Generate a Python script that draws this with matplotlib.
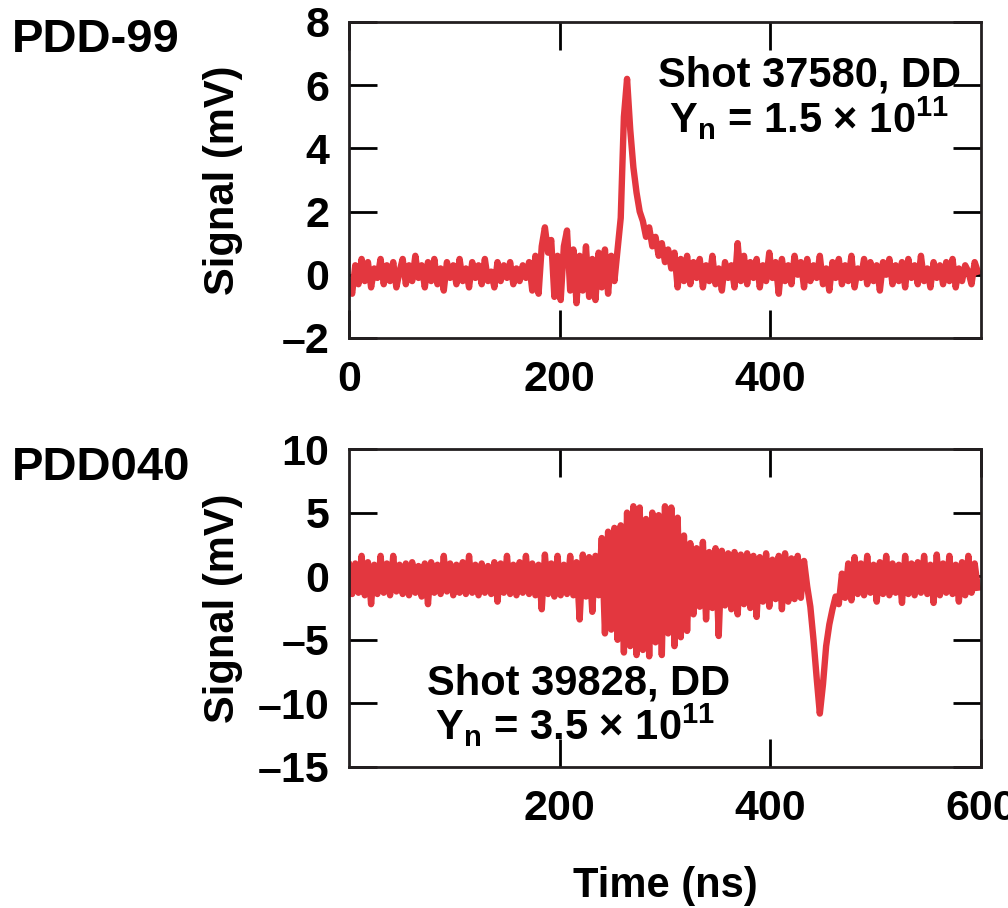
import numpy as np
import matplotlib
matplotlib.use("Agg")
import matplotlib.pyplot as plt

plt.rcParams["font.family"] = ["Liberation Sans", "DejaVu Sans"]
plt.rcParams["font.weight"] = "bold"
plt.rcParams["mathtext.fontset"] = "custom"
plt.rcParams["mathtext.rm"] = "Liberation Sans:bold"
plt.rcParams["mathtext.bf"] = "Liberation Sans:bold"
plt.rcParams["mathtext.it"] = "Liberation Sans:bold"

DT = 3.0  # ns between samples

# PDD-99, shot 37580 (mV)
pdd99_signal = [
    -0.2, -0.6, 0.3, -0.3, 0.5, -0.2, 0.4, -0.4, 0.2, -0.1,
    0.5, -0.3, 0.3, -0.2, 0.4, -0.4, 0.1, 0.5, -0.3, 0.3,
    -0.2, 0.6, -0.1, 0.3, -0.4, 0.4, -0.2, 0.5, -0.3, 0.2,
    -0.5, 0.4, -0.1, 0.3, -0.3, 0.5, -0.2, 0.2, -0.4, 0.4,
    -0.1, 0.3, -0.3, 0.5, -0.2, 0.1, -0.4, 0.4, -0.2, 0.3,
    -0.1, 0.4, -0.3, 0.2, -0.2, 0.3, -0.1,
    0.4, -0.5, 0.6, -0.6, 0.9, 1.5, 0.7, 1.1, -0.7, 0.6,
    -0.8, 0.9, 1.4, -0.5, 0.8, -0.9, 0.6, -0.5, 0.9, -0.7,
    0.5, -0.8, 0.7, -0.4, 0.8, -0.6, 0.6, -0.2, 0.8,
    1.8, 5.0, 6.2, 4.6, 3.4, 2.6, 2.0, 1.7, 1.2, 1.5,
    0.9, 1.2, 0.6, 1.0, 0.4, 0.8, 0.2, 0.7, -0.4, 0.5,
    -0.2, 0.6,
    -0.3, 0.4, -0.1, 0.5, -0.4, 0.3, -0.2, 0.6, -0.3, 0.2,
    -0.5, 0.4, -0.1, 0.3, -0.4, 1.0, -0.2, 0.6, -0.3, 0.4,
    -0.1, 0.5, -0.4, 0.3, -0.2, 0.7, -0.1, 0.4, -0.6, 0.5,
    -0.2, 0.3, -0.3, 0.6, 0.0, 0.4, -0.4, 0.5, -0.2, 0.3,
    -0.1, 0.6, -0.3, 0.2, -0.5, 0.4, -0.1, 0.5, -0.3, 0.3,
    -0.2, 0.6, -0.4, 0.2, -0.1, 0.5, -0.3, 0.4, -0.2, 0.3,
    -0.5, 0.4, 0.0, 0.5, -0.3, 0.3, -0.2, 0.4, -0.4, 0.5,
    -0.1, 0.3, -0.3, 0.6, -0.2, 0.2, -0.4, 0.4, -0.1, 0.3,
    -0.3, 0.4, -0.2, 0.5, -0.4, 0.2, -0.2, 0.3, 0.1, -0.3,
    0.4, 0.1,
]

# PDD040, shot 39828 (mV)
pdd040_signal = [
    0.9, -1.4, 1.0, -1.3, 1.6, -1.5, 1.1, -2.2, 0.9, -1.4,
    1.6, -1.3, 1.0, -1.5, 1.6, -1.2, 0.9, -1.4, 1.0, -1.5,
    1.1, -1.3, 0.8, -1.6, 1.0, -2.2, 1.1, -1.3, 0.9, -1.4,
    1.6, -1.2, 1.0, -1.5, 0.9, -1.3, 1.1, -1.4, 1.6, -1.3,
    0.9, -1.5, 1.0, -1.3, 0.8, -1.4, 1.1, -2.0, 1.0, -1.3,
    1.6, -1.4, 0.9, -1.5, 1.1, -1.3, 1.6, -1.4, 1.0, -1.5,
    0.9, -2.6, 1.7, -1.4, 1.0, -1.6, 1.6, -1.5, 0.9, -1.4,
    1.6, -1.5, 1.1, -3.4, 1.7, -1.6, 1.5, -2.8, 1.6, -1.5,
    3.0, -4.5, 3.5, -4.2, 3.8, -5.0, 4.0, -6.0, 5.0, -5.5,
    5.5, -6.2, 5.4, -5.8, 4.5, -6.3, 5.0, -5.2, 4.8, -6.2,
    5.5, -4.5, 5.4, -5.5, 4.6, -4.8, 3.2, -4.3,
    2.6, -3.0, 2.2, -2.4, 2.7, -3.4, 1.9, -2.5, 2.2, -4.7,
    2.0, -2.3, 1.8, -2.6, 1.9, -3.0, 1.7, -2.2, 1.8, -2.5,
    1.6, -3.2, 1.5, -2.0, 1.8, -2.4, 1.3, -1.8, 1.6, -2.6,
    1.8, -2.0, 1.4, -1.8, 1.6, -1.7, 1.2,
    -0.8, -2.4, -5.0, -8.0, -10.8, -8.5, -5.5, -3.8, -2.6, -1.6,
    -2.2, 0.2, -1.7, 1.0, -1.9, 1.5,
    -1.4, 1.0, -1.5, 1.6, -1.3, 0.9, -2.0, 1.1, -1.4, 1.6,
    -1.5, 1.0, -1.3, 0.9, -2.1, 1.6, -1.4, 1.0, -1.5, 1.1,
    -1.3, 1.6, -1.4, 0.9, -2.1, 1.7, -1.5, 1.0, -1.3, 1.6,
    -1.4, 0.9, -2.0, 1.1, -1.5, 1.6, -1.3, 1.0, -0.9,
]

top_yticks = [-2, 0, 2, 4, 6, 8]
bottom_yticks = [-15, -10, -5, 0, 5, 10]
top_xticks = [0, 200, 400]
bottom_xticks = [200, 400, 600]

RED = "#e3373f"
TICK_FS = 31
LABEL_FS = 30


def style_axes(ax, xticks, yticks, ylim):
    ax.set_xlim(0, 600)
    ax.set_ylim(*ylim)
    ax.set_xticks(xticks)
    ax.set_yticks(yticks)
    ax.set_yticklabels([str(v).replace("-", "\u2013") for v in yticks])
    ax.tick_params(direction="in", length=20, width=2, top=True, right=True,
                   labelsize=TICK_FS)
    ax.tick_params(axis="y", pad=14)
    ax.tick_params(axis="x", pad=16)
    for s in ax.spines.values():
        s.set_linewidth(2)
        s.set_color("#231f20")
    ax.set_ylabel("Signal (mV)", fontsize=LABEL_FS, fontweight="bold")
    ax.yaxis.set_label_coords(-0.168, 0.5)


fig = plt.figure(figsize=(10.08, 9.08), dpi=100)
ax1 = fig.add_axes([0.3462, 0.6278, 0.627, 0.348])
ax2 = fig.add_axes([0.3462, 0.1553, 0.627, 0.3502])

t1 = np.arange(len(pdd99_signal)) * DT
t2 = np.arange(len(pdd040_signal)) * DT
ax1.plot(t1, pdd99_signal, color=RED, lw=4.6, solid_joinstyle="round")
ax2.plot(t2, pdd040_signal, color=RED, lw=4.6, solid_joinstyle="round")

style_axes(ax1, top_xticks, top_yticks, (-2, 8))
style_axes(ax2, bottom_xticks, bottom_yticks, (-15, 10))

ax1.text(437, 6.3, "Shot 37580, DD", fontsize=LABEL_FS, ha="center", va="center")
ax1.text(437, 4.95, "Y$_{\\rm n}$ = 1.5 \u00d7 10$^{\\rm 11}$", fontsize=LABEL_FS,
         ha="center", va="center")
ax2.text(218, -8.4, "Shot 39828, DD", fontsize=LABEL_FS, ha="center", va="center")
ax2.text(215, -11.7, "Y$_{\\rm n}$ = 3.5 \u00d7 10$^{\\rm 11}$", fontsize=LABEL_FS,
         ha="center", va="center")

ax2.set_xlabel("Time (ns)", fontsize=LABEL_FS, fontweight="bold")
ax2.xaxis.set_label_coords(0.5, -0.31)

fig.text(0.012, 0.956, "PDD-99", fontsize=34, ha="left", va="center")
fig.text(0.012, 0.4846, "PDD040", fontsize=34, ha="left", va="center")

fig.savefig("out.png", dpi=100)
